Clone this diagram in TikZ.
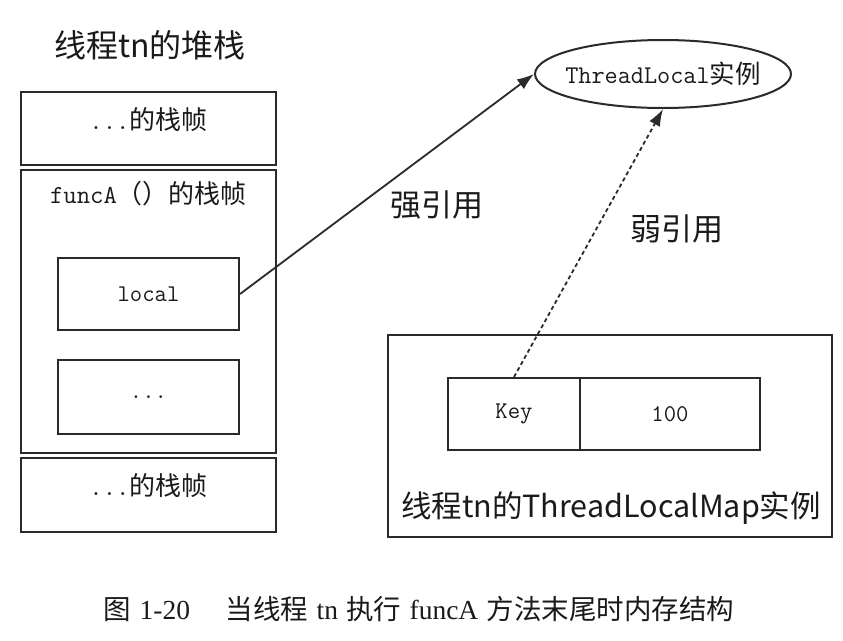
\documentclass[tikz,border=0pt]{standalone}
\usepackage{fontspec}
\usetikzlibrary{arrows.meta,shapes.geometric}
\newfontfamily\cjk{Noto Sans CJK SC}
\newfontfamily\tnr{Liberation Serif}
\definecolor{ln}{HTML}{2A2A2A}
\definecolor{tx}{HTML}{1A1A1A}
\tikzset{
  box/.style={draw=ln,line width=2pt,minimum width=#1,inner sep=0pt},
  mono/.style={text=tx,inner sep=0pt,font=\fontsize{24}{26}\selectfont\ttfamily},
  monob/.style={text=tx,inner sep=0pt,font=\fontsize{26}{28}\selectfont\ttfamily},
  head/.style={text=tx,inner sep=0pt,font=\fontsize{32}{34}\selectfont\cjk},
  lbl/.style={text=tx,inner sep=0pt,font=\fontsize{31}{33}\selectfont\cjk},
  arr/.style={draw=ln,line width=1.8pt,-{Latex[length=17pt,width=12pt]}},
}
\begin{document}
\begin{tikzpicture}[x=1pt,y=-1pt]
\useasboundingbox[fill=white] (0,0) rectangle (843,640);
% title
\node[head] (title) at (150,45) {线程tn的堆栈};
% stack frames
\node[box=255pt,minimum height=73pt] (f1) at (148.5,128.5) {};
\node[monob] (f1t) at (148.5,120) {...{\cjk 的栈帧}};
\node[box=255pt,minimum height=283pt] (f2) at (148.5,311.5) {};
\node[monob] (f2t) at (148.5,194) {funcA{\cjk （）的栈帧}};
\node[box=181pt,minimum height=72pt] (local) at (148.5,294) {};
\node[mono] (localt) at (148.5,294) {local};
\node[box=181pt,minimum height=74pt] (dots) at (148.5,397) {};
\node[mono] (dotst) at (148.5,397) {...};
\node[box=255pt,minimum height=74pt] (f3) at (148.5,495) {};
\node[monob] (f3t) at (148.5,486) {...{\cjk 的栈帧}};
% ThreadLocal instance
\node[draw=ln,line width=2pt,ellipse,minimum width=256pt,minimum height=68pt,inner sep=0pt] (tl) at (663,74) {};
\node[mono,font=\fontsize{25.5}{27}\selectfont\ttfamily] (tlt) at (663,74) {ThreadLocal{\cjk 实例}};
% map
\node[box=444pt,minimum height=202pt] (map) at (610,436) {};
\node[box=132pt,minimum height=72pt] (key) at (514,414) {};
\node[mono] (keyt) at (514,414) {Key};
\node[box=180pt,minimum height=72pt] (val) at (670,414) {};
\node[mono] (valt) at (670,414) {100};
\node[head,font=\fontsize{30.5}{33}\selectfont\cjk] (mapt) at (611,508) {线程tn的ThreadLocalMap实例};
% connectors
\draw[arr] (local.east) -- (tl.west);
\draw[arr,dash pattern=on 4pt off 3pt] (key.north) -- (tl.south);
\node[lbl] (strong) at (437,205) {强引用};
\node[lbl] (weak) at (677,229) {弱引用};
% caption
\node[text=tx,inner sep=0pt,font=\fontsize{27.5}{29}\selectfont] (cap) at (419,609)
  {{\cjk 图} {\tnr 1-20}\hspace{1.3em}{\cjk 当线程} {\tnr tn} {\cjk 执行} {\tnr funcA} {\cjk 方法末尾时内存结构}};
\end{tikzpicture}
\end{document}
